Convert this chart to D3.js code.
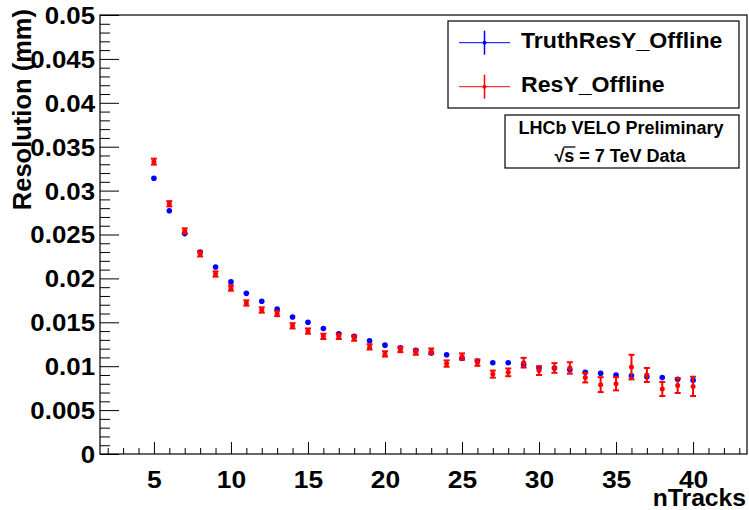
<!DOCTYPE html>
<html>
<head>
<meta charset="utf-8">
<script src="https://cdn.jsdelivr.net/npm/d3@7"></script>
<style>
  html, body { margin: 0; padding: 0; background: #fff; }
  svg { display: block; }
  text { font-family: "Liberation Sans", Arial, Helvetica, sans-serif; font-weight: bold; fill: #000; }
</style>
</head>
<body>
<svg id="chart" width="749" height="510"></svg>
<script>
// ---------------- data ----------------
const nTracks = [5,6,7,8,9,10,11,12,13,14,15,16,17,18,19,20,21,22,23,24,25,26,27,28,29,30,31,32,33,34,35,36,37,38,39,40];
const truthResY = [0.0314,0.0277,0.0251,0.0230,0.0213,0.0196,0.0183,0.0174,0.0165,0.0156,0.0150,0.0143,0.0137,0.0134,0.0129,0.0124,0.0121,0.0118,0.0115,0.0113,0.0109,0.0106,0.0104,0.0104,0.0102,0.0098,0.0098,0.0096,0.0093,0.0092,0.0090,0.0089,0.0088,0.0087,0.0085,0.0084];
const truthErr = [0.00003,0.00003,0.00003,0.00003,0.00003,0.00003,0.00003,0.00003,0.00003,0.00003,0.00003,0.00003,0.00003,0.00003,0.00003,0.00004,0.00004,0.00004,0.00004,0.00004,0.00005,0.00005,0.00005,0.00005,0.00006,0.00006,0.00006,0.00007,0.00007,0.00008,0.00008,0.00009,0.00010,0.00010,0.00011,0.00012];
const resY = [0.0333,0.0285,0.0254,0.0228,0.0205,0.0189,0.0172,0.0164,0.0160,0.0146,0.0140,0.0134,0.0134,0.0132,0.0122,0.0114,0.0119,0.0116,0.0117,0.0103,0.0111,0.0104,0.0091,0.0093,0.0104,0.0095,0.0098,0.0098,0.0087,0.0079,0.0080,0.0099,0.0090,0.0074,0.0078,0.0077];
const resErr = [0.00034,0.0003,0.0003,0.0003,0.0003,0.0003,0.0003,0.0003,0.0003,0.0003,0.0003,0.0003,0.0003,0.0003,0.0003,0.0003,0.0003,0.0003,0.00032,0.00036,0.00036,0.00036,0.0004,0.00044,0.00055,0.0005,0.00055,0.00065,0.00055,0.00085,0.00075,0.0014,0.0008,0.0008,0.00085,0.0011];
const xTickValues = [5,10,15,20,25,30,35,40];
const yTickValues = [0,0.005,0.01,0.015,0.02,0.025,0.03,0.035,0.04,0.045,0.05];
const yTickLabels = ["0","0.005","0.01","0.015","0.02","0.025","0.03","0.035","0.04","0.045","0.05"];
const seriesNames = ["TruthResY_Offline","ResY_Offline"];
const seriesColors = ["#0000ff","#ff0000"];

// ---------------- layout ----------------
const L = 100, R = 747, T = 15, B = 454;
const svg = d3.select("#chart");
const x = d3.scaleLinear().domain([1.5, 43.5]).range([L, R]);
const y = d3.scaleLinear().domain([0, 0.05]).range([B, T]);

// frame
svg.append("rect").attr("x", L).attr("y", T).attr("width", R - L).attr("height", B - T)
  .attr("fill", "none").attr("stroke", "#000").attr("stroke-width", 1.2);

// x axis ticks (inward)
const xMinor = d3.range(2, 44, 1).filter(v => v % 5 !== 0);
const gxMinor = svg.append("g").attr("transform", `translate(0,${B})`)
  .call(d3.axisTop(x).tickValues(xMinor).tickSize(6).tickFormat(""));
const gx = svg.append("g").attr("transform", `translate(0,${B})`)
  .call(d3.axisTop(x).tickValues(xTickValues).tickSize(12).tickFormat(d3.format("d")));
[gxMinor, gx].forEach(g => { g.select(".domain").remove(); g.selectAll("line").attr("stroke", "#000"); });
gx.selectAll("text").attr("x", 0).attr("y", 34).attr("dy", 0).attr("font-size", 24)
  .attr("fill", "#000").attr("transform", "scale(1.1,1)");

// y axis ticks (inward)
const yMinor = d3.range(1, 50).map(v => v / 1000).filter(v => Math.round(v * 1000) % 5 !== 0);
const gyMinor = svg.append("g").attr("transform", `translate(${L},0)`)
  .call(d3.axisRight(y).tickValues(yMinor).tickSize(10).tickFormat(""));
const gy = svg.append("g").attr("transform", `translate(${L},0)`)
  .call(d3.axisRight(y).tickValues(yTickValues).tickSize(19).tickFormat((d, i) => yTickLabels[i]));
[gyMinor, gy].forEach(g => { g.select(".domain").remove(); g.selectAll("line").attr("stroke", "#000"); });
const ySX = 1.1;
gy.selectAll("text").attr("x", -5 / ySX).attr("text-anchor", "end").attr("dy", "0.36em")
  .attr("font-size", 23.5).attr("fill", "#000").attr("transform", `scale(${ySX},1)`);

// axis titles
svg.append("text").attr("transform", "translate(746,506) scale(1.05,1)").attr("text-anchor", "end")
  .attr("font-size", 23.5).text("nTracks");
svg.append("text").attr("transform", "translate(31,9) rotate(-90)").attr("text-anchor", "end")
  .attr("font-size", 25.5).text("Resolution (mm)");

// ---------------- data points ----------------
function drawSeries(vals, errs, color, r) {
  const g = svg.append("g");
  const pts = nTracks.map((n, i) => ({ n, v: vals[i], e: errs[i] }));
  g.selectAll("line.bar").data(pts).join("line").attr("class", "bar")
    .attr("x1", d => x(d.n)).attr("x2", d => x(d.n))
    .attr("y1", d => y(d.v - d.e)).attr("y2", d => y(d.v + d.e))
    .attr("stroke", color).attr("stroke-width", 2);
  ["lo", "hi"].forEach(k => {
    g.selectAll("line.cap" + k).data(pts.filter(d => y(d.v - d.e) - y(d.v + d.e) > 3)).join("line").attr("class", "cap" + k)
      .attr("x1", d => x(d.n) - 3).attr("x2", d => x(d.n) + 3)
      .attr("y1", d => y(k === "lo" ? d.v - d.e : d.v + d.e))
      .attr("y2", d => y(k === "lo" ? d.v - d.e : d.v + d.e))
      .attr("stroke", color).attr("stroke-width", 2);
  });
  g.selectAll("circle").data(pts).join("circle")
    .attr("cx", d => x(d.n)).attr("cy", d => y(d.v)).attr("r", r).attr("fill", color);
}
drawSeries(truthResY, truthErr, seriesColors[0], 2.8);
drawSeries(resY, resErr, seriesColors[1], 2.5);

// ---------------- legend ----------------
svg.append("rect").attr("x", 448).attr("y", 21).attr("width", 291).attr("height", 87)
  .attr("fill", "#fff").attr("stroke", "#000").attr("stroke-width", 1.2);
const legY = [42.7, 86.7];
seriesNames.forEach((name, i) => {
  const cy = legY[i];
  svg.append("line").attr("x1", 459).attr("x2", 510).attr("y1", cy).attr("y2", cy)
    .attr("stroke", seriesColors[i]).attr("stroke-width", 1);
  svg.append("line").attr("x1", 484.5).attr("x2", 484.5).attr("y1", cy - 12).attr("y2", cy + 12)
    .attr("stroke", seriesColors[i]).attr("stroke-width", 1.5);
  svg.append("circle").attr("cx", 484.5).attr("cy", cy).attr("r", 2).attr("fill", seriesColors[i]);
  svg.append("text").attr("transform", `translate(521,${cy + 4.8}) scale(1.05,1)`)
    .attr("font-size", 22).text(name);
});

svg.append("rect").attr("x", 505).attr("y", 115).attr("width", 234).attr("height", 53)
  .attr("fill", "#fff").attr("stroke", "#000").attr("stroke-width", 1.2);
svg.append("text").attr("x", 621).attr("y", 134).attr("text-anchor", "middle")
  .attr("font-size", 18).text("LHCb VELO Preliminary");
const t2 = svg.append("text").attr("x", 620).attr("y", 162).attr("text-anchor", "middle")
  .attr("font-size", 18);
t2.append("tspan").attr("class", "rad").text("\u221A");
t2.append("tspan").attr("class", "s").text("s");
t2.append("tspan").text(" = 7 TeV Data");
// radical overline above "s"
{
  const node = t2.node();
  const end = node.getEndPositionOfChar(1);
  const radEnd = node.getEndPositionOfChar(0);
  svg.append("line").attr("x1", radEnd.x - 1).attr("x2", end.x + 1)
    .attr("y1", 162 - 15).attr("y2", 162 - 15).attr("stroke", "#000").attr("stroke-width", 1.3);
}
</script>
</body>
</html>
